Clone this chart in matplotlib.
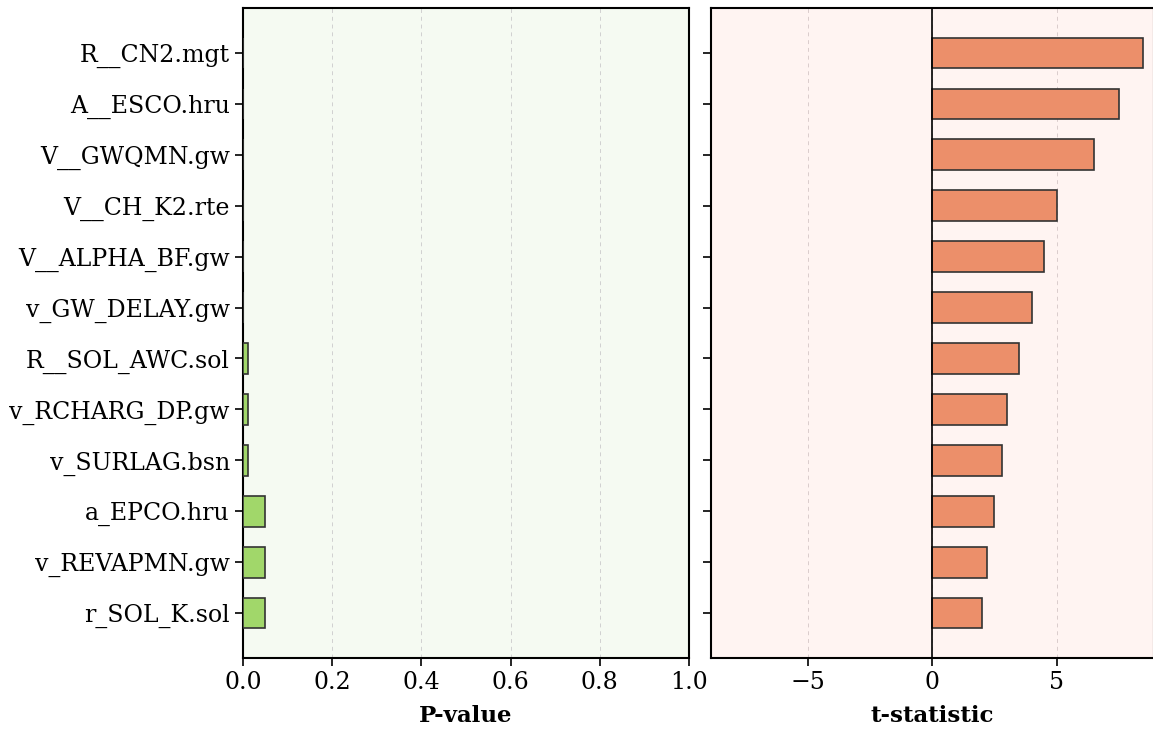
import matplotlib
matplotlib.use("Agg")
import matplotlib.pyplot as plt
import numpy as np

# parameters listed top to bottom
parameters = ["R__CN2.mgt", "A__ESCO.hru", "V__GWQMN.gw", "V__CH_K2.rte",
              "V__ALPHA_BF.gw", "v_GW_DELAY.gw", "R__SOL_AWC.sol",
              "v_RCHARG_DP.gw", "v_SURLAG.bsn", "a_EPCO.hru",
              "v_REVAPMN.gw", "r_SOL_K.sol"]
p_values = [0.0, 0.0, 0.0, 0.0, 0.0, 0.0, 0.01, 0.01, 0.01, 0.05, 0.05, 0.05]
t_stats = [8.5, 7.5, 6.5, 5.0, 4.5, 4.0, 3.5, 3.0, 2.8, 2.5, 2.2, 2.0]

plt.rcParams["font.family"] = "DejaVu Serif"

fig = plt.figure(figsize=(11.53, 7.29), dpi=100)
ax_p = fig.add_axes([0.2108, 0.0974, 0.3868, 0.8916])
ax_t = fig.add_axes([0.6166, 0.0974, 0.3842, 0.8916], sharey=ax_p)

y = np.arange(len(parameters))[::-1]

ax_p.barh(y, p_values, height=0.6, color="#a1d76a", edgecolor="#333333",
          linewidth=1.2, zorder=3)
ax_p.set_xlim(0, 1)
ax_p.set_facecolor("#f5faf2")
ax_p.set_yticks(y)
ax_p.set_yticklabels(parameters)
ax_p.set_xlabel("P-value", fontsize=16.5, fontweight="bold", labelpad=8)
ax_p.grid(axis="x", linestyle=(0, (4, 4)), color="#d0d0d0", linewidth=0.7, zorder=0)

ax_t.barh(y, t_stats, height=0.6, color="#ec8f6a", edgecolor="#333333",
          linewidth=1.2, zorder=3)
lim = max(abs(v) for v in t_stats) * 1.05
ax_t.set_xlim(-lim, lim)
ax_t.axvline(0, color="black", linewidth=1.2, zorder=4)
ax_t.set_facecolor("#fff4f2")
ax_t.tick_params(axis="y", labelleft=False)
ax_t.set_xlabel("t-statistic", fontsize=16.5, fontweight="bold", labelpad=8)
ax_t.grid(axis="x", linestyle=(0, (4, 4)), color="#dacccc", linewidth=0.7, zorder=0)

for ax in (ax_p, ax_t):
    ax.tick_params(axis="both", labelsize=17, width=1.2, length=6)
    for spine in ax.spines.values():
        spine.set_linewidth(1.5)

fig.savefig("out.png", dpi=100)
